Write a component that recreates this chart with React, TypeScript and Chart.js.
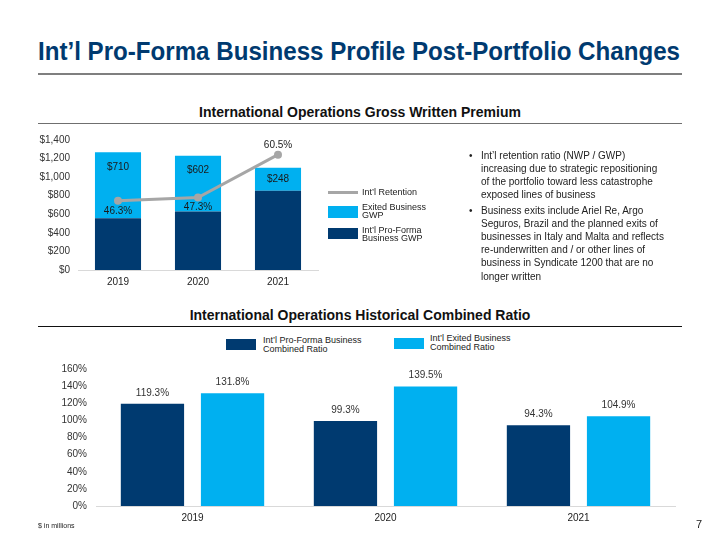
import React, { useEffect, useLayoutEffect, useRef } from "react";
import { Chart, registerables } from "chart.js";

Chart.register(...registerables);

// ---------- data ----------
const years = ["2019", "2020", "2021"];
const proFormaGWP = [558, 629, 854];
const exitedGWP = [710, 602, 248];
const retentionPct = [46.3, 47.3, 60.5];

const crYears = ["2019", "2020", "2021"];
const proFormaCR = [119.3, 99.3, 94.3];
const exitedCR = [131.8, 139.5, 104.9];

const bullet1 = [
  "Int\u2019l retention ratio (NWP / GWP)",
  "increasing due to strategic repositioning",
  "of the portfolio toward less catastrophe",
  "exposed lines of business",
];
const bullet2 = [
  "Business exits include Ariel Re, Argo",
  "Seguros, Brazil and the planned exits of",
  "businesses in Italy and Malta and reflects",
  "re-underwritten and / or other lines of",
  "business in Syndicate 1200 that are no",
  "longer written",
];

// ---------- styles ----------
const NAVY = "#003A70";
const CYAN = "#00B0F0";
const GRAY = "#A6A6A6";
const SANS = "'Liberation Sans', Arial, sans-serif";

const gwpLabels = {
  id: "gwpLabels",
  afterDatasetsDraw(chart: any) {
    const ctx = chart.ctx;
    ctx.save();
    ctx.font = "10px " + SANS;
    ctx.fillStyle = "#1a1a1a";
    ctx.textAlign = "center";
    ctx.textBaseline = "middle";
    const exMeta = chart.getDatasetMeta(1);
    exMeta.data.forEach((bar: any, i: number) => {
      const h = bar.base - bar.y;
      ctx.fillText("$" + exitedGWP[i], bar.x, bar.y + Math.min(h / 2, 15));
    });
    const lineMeta = chart.getDatasetMeta(2);
    lineMeta.data.forEach((pt: any, i: number) => {
      const above = pt.y < exMeta.data[i].y;
      ctx.fillText(retentionPct[i].toFixed(1) + "%", pt.x, above ? pt.y - 9 : pt.y + 10);
    });
    ctx.restore();
  },
};

const crLabels = {
  id: "crLabels",
  afterDatasetsDraw(chart: any) {
    const ctx = chart.ctx;
    ctx.save();
    ctx.font = "10px " + SANS;
    ctx.fillStyle = "#333333";
    ctx.textAlign = "center";
    ctx.textBaseline = "middle";
    chart.data.datasets.forEach((ds: any, di: number) => {
      chart.getDatasetMeta(di).data.forEach((bar: any, i: number) => {
        ctx.fillText(Number(ds.data[i]).toFixed(1) + "%", bar.x, bar.y - 11);
      });
    });
    ctx.restore();
  },
};

function GwpChart() {
  const ref = useRef<HTMLCanvasElement>(null);
  useEffect(() => {
    const chart = new Chart(ref.current as HTMLCanvasElement, {
      type: "bar",
      data: {
        labels: years,
        datasets: [
          {
            type: "bar",
            label: "Int\u2019l Pro-Forma Business GWP",
            data: proFormaGWP,
            backgroundColor: NAVY,
            categoryPercentage: 0.8,
            barPercentage: 0.72,
            order: 2,
          },
          {
            type: "bar",
            label: "Exited Business GWP",
            data: exitedGWP,
            backgroundColor: CYAN,
            categoryPercentage: 0.8,
            barPercentage: 0.72,
            order: 2,
          },
          {
            type: "line",
            label: "Int\u2019l Retention",
            data: retentionPct,
            yAxisID: "y1",
            borderColor: GRAY,
            backgroundColor: GRAY,
            borderWidth: 3,
            pointRadius: 4,
            pointBackgroundColor: GRAY,
            pointBorderWidth: 0,
            order: 0,
          },
        ] as any,
      },
      options: {
        animation: false,
        responsive: false,
        layout: { padding: { top: 0, right: 12, left: 0, bottom: 0 } },
        plugins: { legend: { display: false }, tooltip: { enabled: false } },
        scales: {
          x: {
            stacked: true,
            grid: { display: false, drawTicks: false },
            border: { display: true, color: "#D9D9D9", width: 1 },
            ticks: { font: { size: 10, family: SANS }, color: "#222", padding: 6 },
            afterFit: (s: any) => { s.height = 25; },
          },
          y: {
            stacked: true,
            min: 0,
            max: 1400,
            grid: { display: false, drawTicks: false },
            border: { display: false },
            ticks: {
              stepSize: 200,
              font: { size: 10, family: SANS },
              color: "#333",
              padding: 8,
              callback: (v: any) => "$" + Number(v).toLocaleString("en-US"),
            },
            afterFit: (s: any) => { s.width = 78; },
          },
          y1: { display: false, min: 25, max: 65 },
        },
      } as any,
      plugins: [gwpLabels],
    });
    return () => chart.destroy();
  }, []);
  return (
    <canvas
      ref={ref}
      width={330}
      height={169}
      style={{ position: "absolute", left: 0, top: 126, width: 330, height: 169 }}
    />
  );
}

function CrChart() {
  const ref = useRef<HTMLCanvasElement>(null);
  useEffect(() => {
    const chart = new Chart(ref.current as HTMLCanvasElement, {
      type: "bar",
      data: {
        labels: crYears,
        datasets: [
          {
            label: "Int\u2019l Pro-Forma Business Combined Ratio",
            data: proFormaCR,
            backgroundColor: NAVY,
            categoryPercentage: 0.83,
            barPercentage: 0.79,
          },
          {
            label: "Int\u2019l Exited Business Combined Ratio",
            data: exitedCR,
            backgroundColor: CYAN,
            categoryPercentage: 0.83,
            barPercentage: 0.79,
          },
        ],
      },
      options: {
        animation: false,
        responsive: false,
        layout: { padding: { top: 0, right: 45, left: 0, bottom: 0 } },
        plugins: { legend: { display: false }, tooltip: { enabled: false } },
        scales: {
          x: {
            grid: { display: false, drawTicks: false },
            border: { display: true, color: "#D9D9D9", width: 1 },
            ticks: { font: { size: 10, family: SANS }, color: "#222", padding: 6 },
            afterFit: (s: any) => { s.height = 25; },
          },
          y: {
            min: 0,
            max: 160,
            grid: { display: false, drawTicks: false },
            border: { display: false },
            ticks: {
              stepSize: 20,
              font: { size: 10, family: SANS },
              color: "#333",
              padding: 9,
              callback: (v: any) => v + "%",
            },
            afterFit: (s: any) => { s.width = 96; },
          },
        },
      } as any,
      plugins: [crLabels],
    });
    return () => chart.destroy();
  }, []);
  return (
    <canvas
      ref={ref}
      width={720}
      height={177}
      style={{ position: "absolute", left: 0, top: 354, width: 720, height: 177 }}
    />
  );
}

function FitTitle({ text, width }: { text: string; width: number }) {
  const ref = useRef<HTMLDivElement>(null);
  useLayoutEffect(() => {
    const el = ref.current;
    if (!el) return;
    const w = el.scrollWidth;
    if (w > 0) el.style.transform = `scaleX(${width / w})`;
  }, [text, width]);
  return (
    <div
      ref={ref}
      style={{
        position: "absolute",
        left: 38,
        top: 36,
        lineHeight: "30px",
        fontSize: 26,
        fontWeight: 700,
        color: NAVY,
        whiteSpace: "nowrap",
        transformOrigin: "0 50%",
        display: "inline-block",
      }}
    >
      {text}
    </div>
  );
}

const abs = (s: React.CSSProperties): React.CSSProperties => ({ position: "absolute", ...s });

export default function App() {
  const lineStyle = { margin: 0, whiteSpace: "nowrap" as const };
  return (
    <div
      style={{
        position: "absolute",
        left: 0,
        top: 0,
        width: 720,
        height: 540,
        background: "#fff",
        fontFamily: SANS,
        overflow: "hidden",
      }}
    >
      <FitTitle text={"Int\u2019l Pro-Forma Business Profile Post-Portfolio Changes"} width={642} />
      <div style={abs({ left: 38, top: 73, width: 644, height: 2, background: "#7F7F7F" })} />

      <div style={abs({ left: 0, width: 720, top: 103, lineHeight: "18px", textAlign: "center", fontSize: 14, fontWeight: 700, color: "#111" })}>
        International Operations Gross Written Premium
      </div>
      <div style={abs({ left: 38, top: 122.5, width: 644, height: 1.5, background: "#6F6F6F" })} />

      <GwpChart />

      {/* top legend */}
      <div style={abs({ left: 328, top: 190.5, width: 30, height: 3.3, background: GRAY })} />
      <div style={abs({ left: 362, top: 186.5, lineHeight: "11px", fontSize: 9, color: "#222" })}>Int{"\u2019"}l Retention</div>
      <div style={abs({ left: 328, top: 206, width: 30, height: 12, background: CYAN })} />
      <div style={abs({ left: 362, top: 202.5, lineHeight: "8.5px", fontSize: 9, color: "#222" })}>
        Exited Business<br />GWP
      </div>
      <div style={abs({ left: 328, top: 228, width: 30, height: 11, background: NAVY })} />
      <div style={abs({ left: 362, top: 225.5, lineHeight: "8.5px", fontSize: 9, color: "#222" })}>
        Int{"\u2019"}l Pro-Forma<br />Business GWP
      </div>

      {/* bullets */}
      <div style={abs({ left: 469, top: 148.5, lineHeight: "13.2px", fontSize: 10, color: "#222" })}>{"\u2022"}</div>
      <div style={abs({ left: 481, top: 148.5, lineHeight: "13.2px", fontSize: 10, color: "#222" })}>
        {bullet1.map((t, i) => (<div key={i} style={lineStyle}>{t}</div>))}
      </div>
      <div style={abs({ left: 469, top: 203.5, lineHeight: "13.2px", fontSize: 10, color: "#222" })}>{"\u2022"}</div>
      <div style={abs({ left: 481, top: 203.5, lineHeight: "13.2px", fontSize: 10, color: "#222" })}>
        {bullet2.map((t, i) => (<div key={i} style={lineStyle}>{t}</div>))}
      </div>

      <div style={abs({ left: 0, width: 720, top: 306, lineHeight: "18px", textAlign: "center", fontSize: 14, fontWeight: 700, color: "#111" })}>
        International Operations Historical Combined Ratio
      </div>
      <div style={abs({ left: 38, top: 325.5, width: 644, height: 1.5, background: "#111" })} />

      {/* bottom legend */}
      <div style={abs({ left: 226, top: 339, width: 30, height: 11, background: NAVY })} />
      <div style={abs({ left: 263, top: 335.5, lineHeight: "9px", fontSize: 9, color: "#222" })}>
        Int{"\u2019"}l Pro-Forma Business<br />Combined Ratio
      </div>
      <div style={abs({ left: 394, top: 338, width: 30, height: 11, background: CYAN })} />
      <div style={abs({ left: 430, top: 334, lineHeight: "9px", fontSize: 9, color: "#222" })}>
        Int{"\u2019"}l Exited Business<br />Combined Ratio
      </div>

      <CrChart />

      <div style={abs({ left: 38, top: 521, lineHeight: "9px", fontSize: 7, color: "#222" })}>$ in millions</div>
      <div style={abs({ left: 696, top: 517, lineHeight: "14px", fontSize: 11, color: "#222" })}>7</div>
    </div>
  );
}
